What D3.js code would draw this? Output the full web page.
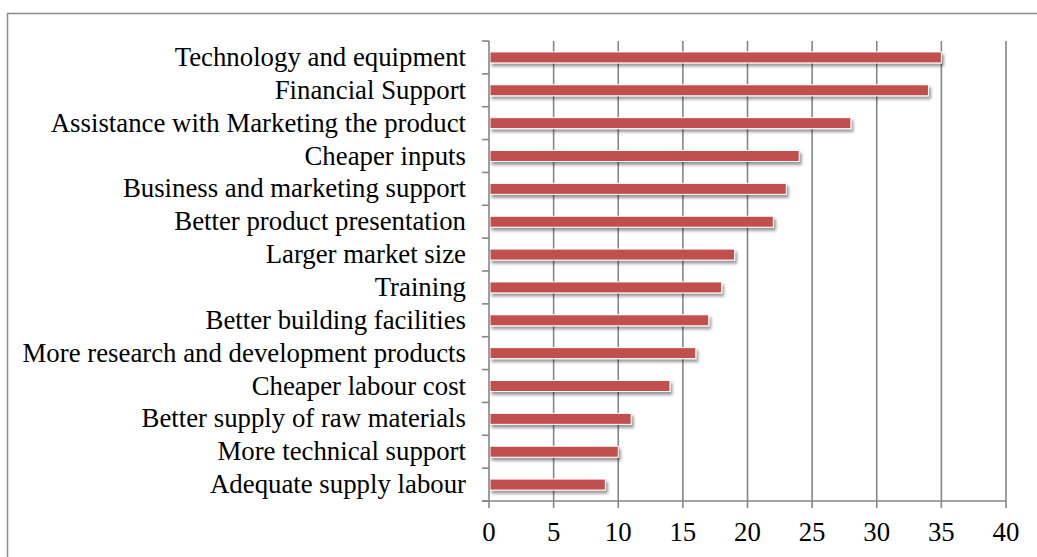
<!DOCTYPE html>
<html>
<head>
<meta charset="utf-8">
<script src="https://cdn.jsdelivr.net/npm/d3@7"></script>
<style>
  body { margin: 0; background: #fff; }
  text { font-family: "Liberation Serif", "Times New Roman", serif; fill: #000; }
</style>
</head>
<body>
<div class="bar-chart"></div>
<script>
var categories = [
  'Technology and equipment',
  'Financial Support',
  'Assistance with Marketing the product',
  'Cheaper inputs',
  'Business and marketing support',
  'Better product presentation',
  'Larger market size',
  'Training',
  'Better building facilities',
  'More research and development products',
  'Cheaper labour cost',
  'Better supply of raw materials',
  'More technical support',
  'Adequate supply labour'
];
var values = [35, 34, 28, 24, 23, 22, 19, 18, 17, 16, 14, 11, 10, 9];
var xTicks = [0, 5, 10, 15, 20, 25, 30, 35, 40];

var margin = { top: 41, right: 31, bottom: 56, left: 489 };
var width = 1037 - margin.left - margin.right;
var height = 557 - margin.top - margin.bottom;

var svg = d3.select('.bar-chart').append('svg')
    .attr('width', 1037)
    .attr('height', 557);

// outer frame
svg.append('rect')
    .attr('x', 7.5).attr('y', 13.5)
    .attr('width', 1040).attr('height', 560)
    .attr('fill', 'none')
    .attr('stroke', '#8c8c8c')
    .attr('stroke-width', 1.5);

var defs = svg.append('defs');
var f = defs.append('filter').attr('id', 'shadow')
    .attr('x', '-5%').attr('y', '-50%').attr('width', '115%').attr('height', '250%');
f.append('feDropShadow')
    .attr('dx', 2).attr('dy', 3).attr('stdDeviation', 1.6)
    .attr('flood-color', '#000').attr('flood-opacity', 0.4);

var g = svg.append('g')
    .attr('transform', 'translate(' + margin.left + ',' + margin.top + ')');

var xScale = d3.scaleLinear().domain([0, 40]).range([0, width]);
var yScale = d3.scaleBand().domain(categories).range([0, height]);

// gridlines
g.selectAll('.grid').data(xTicks.slice(1)).enter().append('line')
    .attr('class', 'grid')
    .attr('x1', function(d) { return xScale(d); })
    .attr('x2', function(d) { return xScale(d); })
    .attr('y1', 0).attr('y2', height + 7)
    .attr('stroke', '#868686').attr('stroke-width', 1.6);

// bars
var barH = 11;
g.selectAll('.bar').data(values).enter().append('rect')
    .attr('class', 'bar')
    .attr('x', xScale(0) + 1)
    .attr('y', function(d, i) { return yScale(categories[i]) + yScale.bandwidth() / 2 - barH / 2; })
    .attr('width', function(d) { return xScale(d) - xScale(0) - 1; })
    .attr('height', barH)
    .attr('fill', '#c0504d')
    .attr('stroke', '#fff').attr('stroke-width', 1)
    .attr('filter', 'url(#shadow)');

// y axis line and boundary ticks
g.append('line')
    .attr('x1', 0).attr('x2', 0).attr('y1', 0).attr('y2', height)
    .attr('stroke', '#868686').attr('stroke-width', 1.6);
var bounds = d3.range(categories.length + 1).map(function(i) { return i * yScale.step(); });
g.selectAll('.ytick').data(bounds).enter().append('line')
    .attr('x1', -7).attr('x2', 0)
    .attr('y1', function(d) { return d; }).attr('y2', function(d) { return d; })
    .attr('stroke', '#868686').attr('stroke-width', 1.6);

// x axis line
g.append('line')
    .attr('x1', -7).attr('x2', width).attr('y1', height).attr('y2', height)
    .attr('stroke', '#868686').attr('stroke-width', 1.6);
g.append('line')
    .attr('x1', 0).attr('x2', 0).attr('y1', height).attr('y2', height + 7)
    .attr('stroke', '#868686').attr('stroke-width', 1.6);

// category labels
g.selectAll('.ylabel').data(categories).enter().append('text')
    .attr('x', -23)
    .attr('y', function(d) { return yScale(d) + yScale.bandwidth() / 2; })
    .attr('dy', '0.32em')
    .attr('text-anchor', 'end')
    .style('font-size', '26.8px')
    .text(function(d) { return d; });

// x tick labels
g.selectAll('.xlabel').data(xTicks).enter().append('text')
    .attr('x', function(d) { return xScale(d); })
    .attr('y', height + 40)
    .attr('text-anchor', 'middle')
    .style('font-size', '26.8px')
    .text(function(d) { return d; });
</script>
</body>
</html>
